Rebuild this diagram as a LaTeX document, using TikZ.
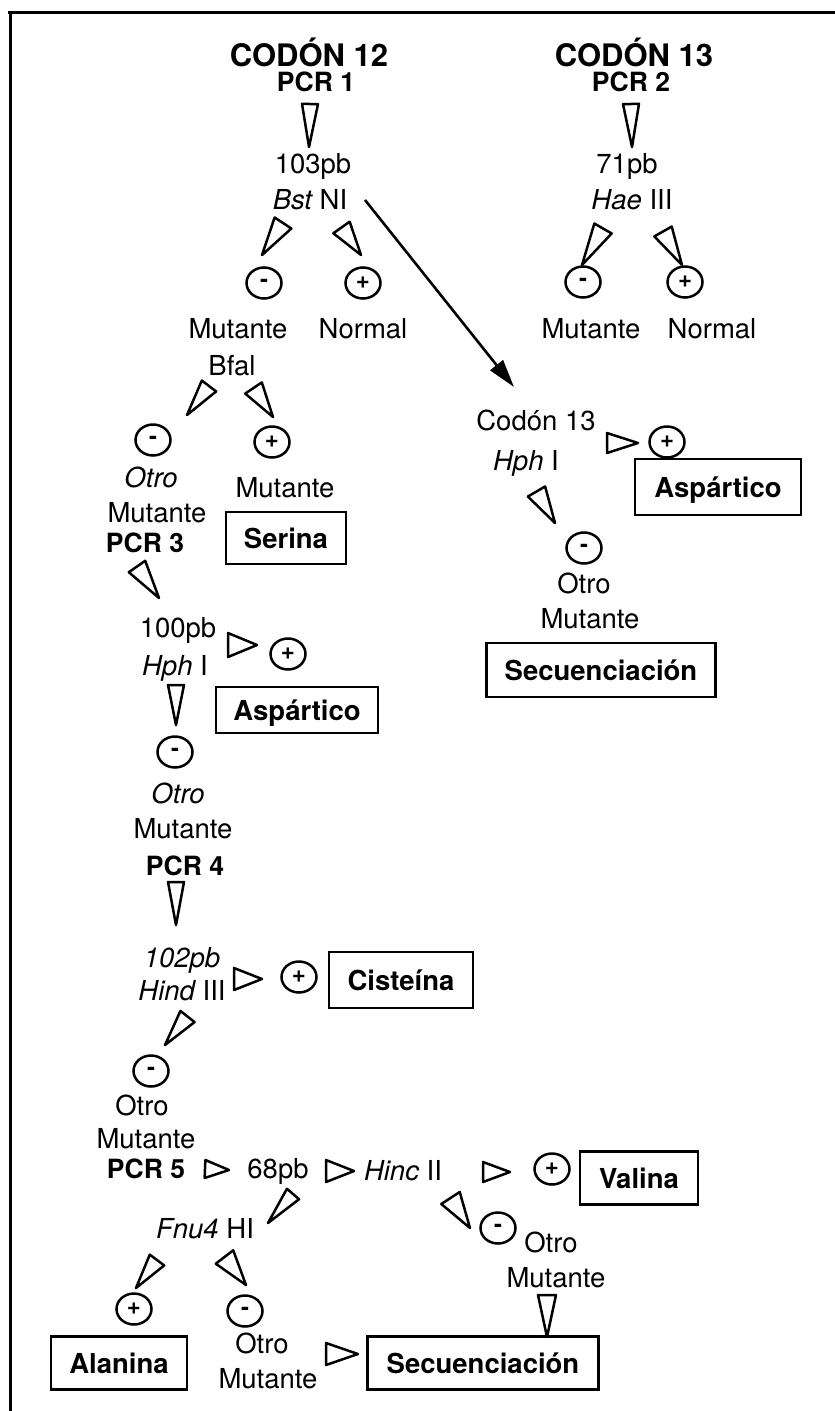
\documentclass[tikz,border=0pt]{standalone}
\usepackage{fontspec}
\setmainfont{TeX Gyre Heros}
\usetikzlibrary{calc,shapes.geometric,arrows.meta}
\newcommand\wdg[3][10]{%
  \coordinate (wA) at #2; \coordinate (wB) at #3;
  \draw[wdgline] ($(wA)!#1pt!90:(wB)$) -- (wB) -- ($(wA)!#1pt!-90:(wB)$) -- cycle;}
\begin{document}
\begin{tikzpicture}[x=1pt,y=-1pt,
 txt/.style={anchor=base,inner sep=0pt,font=\fontsize{27.5}{30}\selectfont},
 bld/.style={anchor=base,inner sep=0pt,font=\fontsize{26.5}{30}\selectfont\bfseries},
 title/.style={anchor=base,inner sep=0pt,font=\fontsize{31}{32}\selectfont\bfseries},
 sign/.style={ellipse,draw,line width=2.5pt,minimum width=35pt,minimum height=31pt,inner sep=0pt,font=\fontsize{24}{24}\selectfont\bfseries},
 res/.style={draw,line width=2.8pt,inner sep=0pt,text height=20pt,text depth=0pt,font=\fontsize{27.5}{30}\selectfont\bfseries},
 wdgline/.style={line width=2.5pt,line join=round},
 bigarrow/.style={line width=2.6pt,-{Triangle[length=28pt,width=16pt]}}]
\useasboundingbox (0,0) rectangle (835,1411);
\fill[white] (0,0) rectangle (835,1411);
\draw[line width=3pt] (8,12) -- (835,12);
\draw[line width=3pt] (10,11) -- (10,1411);
% top
\node[title] (c12) at (309,66) {CODÓN 12};
\node[bld] (pcr1) at (316,91) {PCR 1};
\node[title] (c13) at (634,66) {CODÓN 13};
\node[bld] (pcr2) at (631,91) {PCR 2};
\node[txt] (bp103) at (313,173) {103pb};
\node[txt] (bst) at (310,209) {{\itshape Bst} NI};
\node[txt] (bp71) at (627,173) {71pb};
\node[txt] (hae) at (632,209) {{\itshape Hae} III};
\node[sign] (m1) at (264,283) {-};
\node[sign] (p1) at (363,283) {+};
\node[sign] (m2) at (583,282) {-};
\node[sign] (p2) at (685,282) {+};
\node[txt] (mut1) at (238,338) {Mutante};
\node[txt] (nor1) at (363,338) {Normal};
\node[txt] (mut2) at (591,338) {Mutante};
\node[txt] (nor2) at (712,338) {Normal};
% Bfal branch
\node[txt] (bfal) at (232,375) {Bfal};
\node[sign] (m3) at (153,440) {-};
\node[sign] (p3) at (272,442) {+};
\node[txt] (otro3) at (151,487) {\itshape Otro};
\node[txt] (mut3a) at (285,497) {Mutante};
\node[txt] (mut3b) at (157,522) {Mutante};
\node[res,minimum width=120pt,minimum height=52pt] (serina) at (286,538) {Serina};
\node[bld] (pcr3) at (145,552) {PCR 3};
\node[txt] (bp100) at (178,637) {100pb};
\node[sign] (p4) at (288,654) {+};
\node[txt] (hph1) at (175,675) {{\itshape Hph} I};
\node[res,minimum width=162pt,minimum height=46pt] (asp1) at (297,710) {Aspártico};
\node[sign] (m4) at (175,752) {-};
\node[txt] (otro4) at (178,803) {\itshape Otro};
\node[txt] (mut4) at (183,838) {Mutante};
\node[bld] (pcr4) at (185,875) {PCR 4};
\node[txt] (bp102) at (182,967) {\itshape 102pb};
\node[txt] (hind) at (182,1000) {{\itshape Hind} III};
\node[sign] (p5) at (299,977) {+};
\node[res,minimum width=144pt,minimum height=56pt] (cist) at (401,980) {Cisteína};
\node[sign] (m5) at (151,1071) {-};
\node[txt] (otro5) at (142,1115) {Otro};
\node[txt] (mut5) at (146,1148) {Mutante};
\node[bld] (pcr5) at (146,1178) {PCR 5};
\node[txt] (bp68) at (278,1178) {68pb};
\node[txt] (hinc) at (403,1180) {{\itshape Hinc} II};
\node[sign] (p6) at (552,1169) {+};
\node[res,minimum width=118pt,minimum height=53pt] (valina) at (639,1178) {Valina};
\node[txt] (fnu) at (205,1238) {{\itshape Fnu4} HI};
\node[sign] (m6) at (498,1228) {-};
\node[txt] (otro6) at (551,1252) {Otro};
\node[txt] (mut6) at (556,1287) {Mutante};
\node[sign] (p7) at (134,1309) {+};
\node[sign] (m7) at (245,1311) {-};
\node[res,minimum width=136pt,minimum height=53pt] (alanina) at (119,1363) {Alanina};
\node[txt] (otro7) at (262,1353) {Otro};
\node[txt] (mut7) at (268,1388) {Mutante};
\node[res,minimum width=231pt,minimum height=53pt] (sec2) at (483,1363) {Secuenciación};
% right middle
\node[txt] (cod13) at (536,430) {Codón 13};
\node[sign] (p8) at (667,442) {+};
\node[res,minimum width=166pt,minimum height=56pt] (asp2) at (718,487) {Aspártico};
\node[txt] (hph2) at (526,470) {{\itshape Hph} I};
\node[sign] (m8) at (584,548) {-};
\node[txt] (otro8) at (584,593) {Otro};
\node[txt] (mut8) at (590,628) {Mutante};
\node[res,minimum width=229pt,minimum height=54pt] (sec1) at (601,670) {Secuenciación};
% wedges
\wdg[8]{([shift={(-6,13)}]pcr1.base)}{([shift={(-4,-26)}]bp103.base)}
\wdg[8]{([shift={(0,13)}]pcr2.base)}{([shift={(5,-26)}]bp71.base)}
\wdg[10]{([shift={(-27,14)}]bst.base)}{([shift={(-2,-28)}]m1.center)}
\wdg[10]{([shift={(31.5,18.5)}]bst.base)}{([shift={(-2,-28)}]p1.center)}
\wdg[10]{([shift={(-29,19.5)}]hae.base)}{([shift={(-1,-17)}]m2.center)}
\wdg[10]{([shift={(31,22.5)}]hae.base)}{([shift={(-3,-17)}]p2.center)}
\wdg[9]{([shift={(-23,11)}]bfal.base)}{([shift={(34,-25)}]m3.center)}
\wdg[10]{([shift={(21.5,13)}]bfal.base)}{([shift={(1,-25)}]p3.center)}
\wdg[10]{([shift={(-8,14.5)}]pcr3.base)}{([shift={(-19,-39)}]bp100.base)}
\wdg[12]{([shift={(50,8)}]bp100.base)}{([shift={(-31,-9)}]p4.center)}
\wdg[8]{([shift={(1,10)}]hph1.base)}{([shift={(1,-27)}]m4.center)}
\wdg[8]{([shift={(-9,7)}]pcr4.base)}{([shift={(-6,-42)}]bp102.base)}
\wdg[11]{([shift={(52,-21)}]hind.base)}{([shift={(-37,2)}]p5.center)}
\wdg[9]{([shift={(5.5,16.5)}]hind.base)}{([shift={(14,-26)}]m5.center)}
\wdg[9]{([shift={(59,-9)}]pcr5.base)}{([shift={(-49,-8)}]bp68.base)}
\wdg[11]{([shift={(48,-7)}]bp68.base)}{([shift={(-49,-9)}]hinc.base)}
\wdg[10]{([shift={(80,-8)}]hinc.base)}{([shift={(-42,3)}]p6.center)}
\wdg[8]{([shift={(15,16)}]bp68.base)}{([shift={(63,-15)}]fnu.base)}
\wdg[11]{([shift={(47.5,18)}]hinc.base)}{([shift={(-28,0)}]m6.center)}
\wdg[9]{([shift={(-9,8)}]mut6.base)}{([shift={(64,-26)}]sec2.center)}
\wdg[9]{([shift={(-48,22)}]fnu.base)}{([shift={(2,-21)}]p7.center)}
\wdg[11]{([shift={(19.5,19)}]fnu.base)}{([shift={(1,-26)}]m7.center)}
\wdg[11]{([shift={(58,-34)}]mut7.base)}{([shift={(-125,-9)}]sec2.center)}
\wdg[10]{([shift={(71,13)}]cod13.base)}{([shift={(-29,1)}]p8.center)}
\wdg[10]{([shift={(10.5,21.5)}]hph2.base)}{([shift={(-29,-25)}]m8.center)}
\draw[bigarrow] ([shift={(55,-9)}]bst.base) -- ([shift={(-22,-43)}]cod13.base);
\end{tikzpicture}
\end{document}
